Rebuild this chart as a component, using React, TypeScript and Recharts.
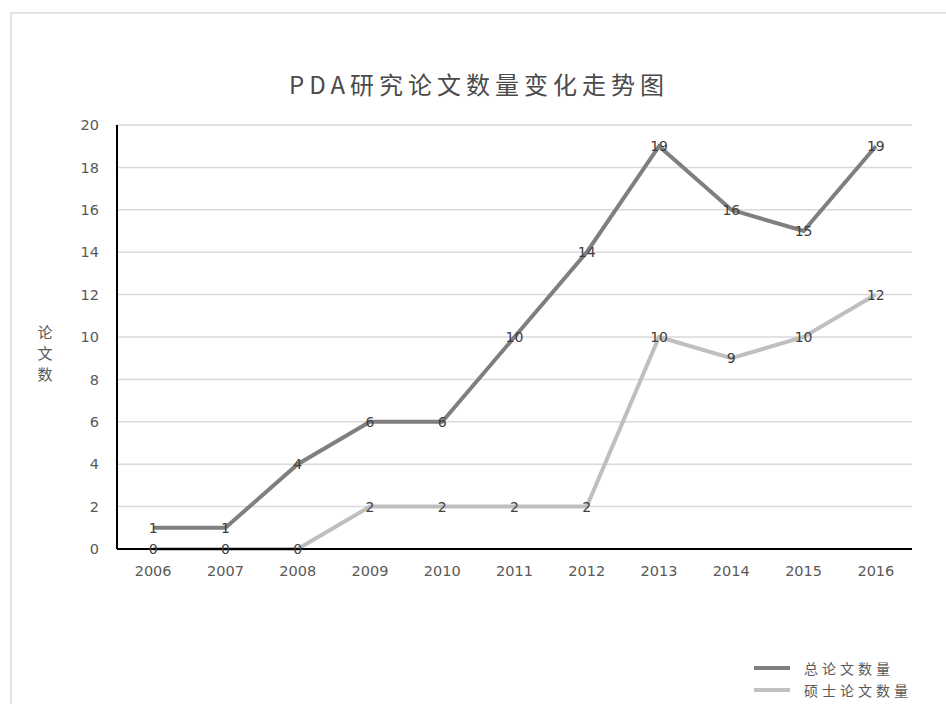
import React from "react";
import {
  LineChart,
  Line,
  XAxis,
  YAxis,
  CartesianGrid,
  LabelList,
} from "recharts";

const years = ["2006", "2007", "2008", "2009", "2010", "2011", "2012", "2013", "2014", "2015", "2016"];
const totalPapers = [1, 1, 4, 6, 6, 10, 14, 19, 16, 15, 19];
const masterPapers = [0, 0, 0, 2, 2, 2, 2, 10, 9, 10, 12];
const yTicks = [0, 2, 4, 6, 8, 10, 12, 14, 16, 18, 20];

const seriesNames = { total: "总论文数量", master: "硕士论文数量" };
const DARK = "#7f7f7f";
const LIGHT = "#bfbfbf";

const data = years.map((y, i) => ({
  year: y,
  total: totalPapers[i],
  master: masterPapers[i],
}));

const cjk = '"Noto Sans CJK SC", "Noto Sans", sans-serif';
const num = '"DejaVu Sans", sans-serif';

function YLabel() {
  const chars = ["论", "文", "数"];
  return (
    <text x={45} y={330} textAnchor="middle" fill="#595959" fontSize={15} fontFamily={cjk}>
      {chars.map((c, i) => (
        <tspan key={c} x={45} y={338 + i * 21}>
          {c}
        </tspan>
      ))}
    </text>
  );
}

// legend drawn as plain html, so it does not eat into the plot area
function LegendBox() {
  const rows = [
    { name: seriesNames.total, color: DARK },
    { name: seriesNames.master, color: LIGHT },
  ];
  return (
    <div style={{ position: "absolute", left: 754, top: 657 }}>
      {rows.map((r) => (
        <div key={r.name} style={{ display: "flex", alignItems: "center", height: 22 }}>
          <div style={{ width: 36, height: 4, background: r.color, marginRight: 14 }} />
          <span
            style={{
              fontFamily: cjk,
              fontSize: 14,
              letterSpacing: 4,
              color: "#595959",
            }}
          >
            {r.name}
          </span>
        </div>
      ))}
    </div>
  );
}

const labelStyle = { fill: "#404040", fontSize: 14, fontFamily: num };

export default function App() {
  return (
    <div
      style={{
        position: "absolute",
        left: 0,
        top: 0,
        width: 946,
        height: 704,
        overflow: "hidden",
        background: "#fff",
      }}
    >
      <div
        style={{
          position: "absolute",
          left: 10,
          top: 12,
          width: 980,
          height: 740,
          border: "2px solid #e3e3e3",
        }}
      />
      <div
        style={{
          position: "absolute",
          left: 0,
          width: 958,
          top: 66,
          textAlign: "center",
          fontFamily: cjk,
          fontSize: 24,
          letterSpacing: 5,
          color: "#4a4a4a",
        }}
      >
        PDA研究论文数量变化走势图
      </div>
      <div style={{ position: "absolute", left: 0, top: 0 }}>
        <LineChart
          width={946}
          height={704}
          data={data}
          margin={{ top: 125, right: 34, left: 57, bottom: 125 }}
        >
          <CartesianGrid vertical={false} stroke="#d9d9d9" strokeWidth={1.5} />
          <XAxis
            dataKey="year"
            scale="band"
            height={30}
            axisLine={{ stroke: "#000", strokeWidth: 2 }}
            tickLine={false}
            tick={{ fill: "#595959", fontSize: 14.5, fontFamily: num }}
            tickMargin={11}
          />
          <YAxis
            width={60}
            domain={[0, 20]}
            ticks={yTicks}
            interval={0}
            axisLine={{ stroke: "#000", strokeWidth: 2 }}
            tickLine={false}
            tick={{ fill: "#595959", fontSize: 14.5, fontFamily: num }}
            tickMargin={12}
            label={<YLabel />}
          />
          <Line
            dataKey="master"
            name={seriesNames.master}
            stroke={LIGHT}
            strokeWidth={4}
            dot={false}
            isAnimationActive={false}
          >
            <LabelList dataKey="master" position="center" style={labelStyle} />
          </Line>
          <Line
            dataKey="total"
            name={seriesNames.total}
            stroke={DARK}
            strokeWidth={4}
            dot={false}
            isAnimationActive={false}
          >
            <LabelList dataKey="total" position="center" style={labelStyle} />
          </Line>
        </LineChart>
      </div>
      <LegendBox />
    </div>
  );
}
